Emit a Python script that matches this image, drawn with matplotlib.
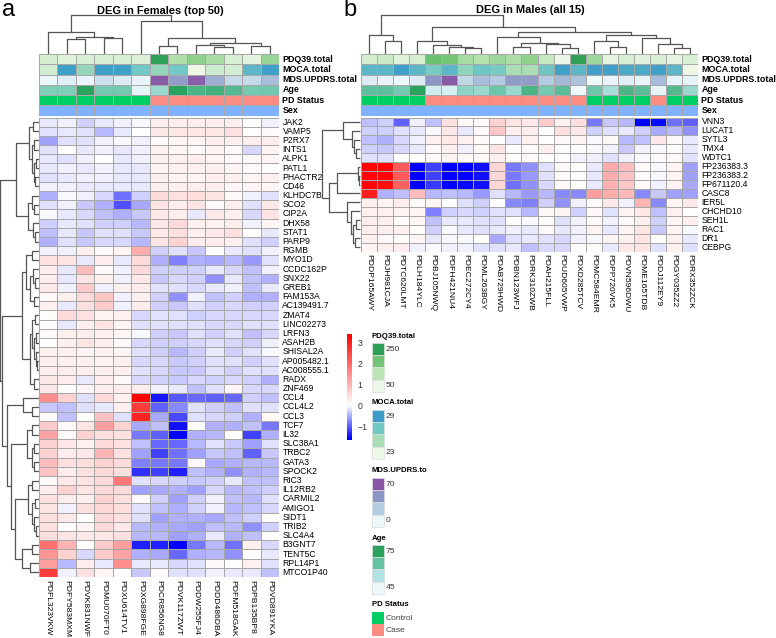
import numpy as np
import matplotlib
matplotlib.use("Agg")
import matplotlib.pyplot as plt
from matplotlib.colors import LinearSegmentedColormap, ListedColormap, TwoSlopeNorm, Normalize
from matplotlib.patches import Rectangle

plt.rcParams['font.family'] = ['Liberation Sans', 'DejaVu Sans']

W, H = 776, 638

# ---------------- panel a : females ----------------
samples_f = ["PDFL323VKW", "PDFY583MXM", "PDVK831NWF", "PDMU070FT0", "PDXU614TV1",
             "PDXG898FGE", "PDCR856NG8", "PDVK117ZWT", "PDDW255FJ4", "PDDD486DBA",
             "PDFM518GAK", "PDPB135BP8", "PDVD891YKA"]
genes_f = ["JAK2", "VAMP5", "P2RX7", "INTS1", "ALPK1", "PATL1", "PHACTR2", "CD46",
           "KLHDC7B", "SCO2", "CIP2A", "DHX58", "STAT1", "PARP9", "RGMB", "MYO1D",
           "CCDC162P", "SNX22", "GREB1", "FAM153A", "AC139491.7", "ZMAT4", "LINC02273",
           "LRFN3", "ASAH2B", "SHISAL2A", "AP005482.1", "AC008555.1", "RADX", "ZNF469",
           "CCL4", "CCL4L2", "CCL3", "TCF7", "IL32", "SLC38A1", "TRBC2", "GATA3",
           "SPOCK2", "RIC3", "IL12RB2", "CARMIL2", "AMIGO1", "SIDT1", "TRIB2", "SLC4A4",
           "B3GNT7", "TENT5C", "RPL14P1", "MTCO1P40"]
expr_f = [
    [-0.15, -0.1, -0.3, -0.15, -0.1, -0.05, 0.25, 0.25, 0.25, 0.2, 0.2, 0.05, -0.1],
    [-0.2, -0.15, -0.2, -0.45, -0.15, 0.0, 0.3, 0.3, 0.3, 0.3, 0.4, 0.05, 0.1],
    [-0.6, -0.2, -0.2, -0.1, -0.05, -0.1, 0.1, 0.15, 0.15, 0.2, 0.2, 0.25, 0.25],
    [-0.2, 0.05, -0.15, -0.1, -0.15, -0.1, 0.2, 0.15, 0.1, 0.15, 0.1, -0.25, 0.15],
    [-0.15, -0.2, -0.1, 0.0, -0.15, -0.1, 0.2, 0.2, 0.25, 0.15, 0.1, 0.1, 0.15],
    [-0.15, -0.1, -0.15, -0.1, -0.15, -0.15, 0.15, 0.2, 0.2, 0.2, 0.15, 0.1, 0.05],
    [-0.2, -0.15, -0.1, -0.1, -0.15, -0.15, 0.2, 0.15, 0.15, 0.2, 0.2, 0.15, 0.2],
    [-0.1, -0.1, -0.15, -0.15, -0.15, -0.15, 0.2, 0.2, 0.25, 0.2, 0.15, 0.15, 0.15],
    [-0.5, -0.05, -0.1, -0.25, -0.9, -0.3, 0.5, 0.4, 0.45, 0.35, 0.1, -0.1, -0.2],
    [-0.2, -0.1, -0.35, -0.5, -1.1, -0.55, 0.35, 0.25, 0.35, 0.1, 0.2, -0.2, 0.3],
    [-0.05, -0.15, -0.25, -0.4, -0.5, -0.35, 0.3, 0.25, -0.15, 0.3, 0.2, -0.25, 0.35],
    [-0.3, -0.15, -0.2, -0.3, -0.3, -0.45, 0.3, 0.5, 0.2, 0.2, 0.25, -0.1, 0.15],
    [-0.4, -0.15, -0.35, -0.2, -0.2, -0.35, 0.3, 0.45, 0.2, 0.3, 0.4, 0.0, -0.15],
    [-0.5, -0.2, -0.35, -0.25, -0.25, -0.45, 0.35, 0.6, 0.25, 0.25, 0.2, -0.2, -0.3],
    [-0.1, -0.1, 0.2, 0.1, 0.15, 1.1, -0.3, -0.2, -0.35, 0.05, -0.15, -0.2, -0.1],
    [0.4, 0.35, -0.15, 0.25, -0.15, 0.5, -0.5, -0.8, -0.5, -0.55, -0.45, -0.65, -0.2],
    [0.25, -0.15, 0.9, 0.1, -0.1, 0.5, -0.3, -0.3, -0.3, -0.15, -0.25, -0.4, -0.1],
    [0.25, -0.15, 0.35, 0.2, -0.1, 0.3, -0.35, -0.25, -0.3, -0.7, -0.15, -0.4, -0.5],
    [0.3, -0.1, 0.7, -0.1, 0.2, 0.25, -0.2, -0.2, -0.25, -0.15, -0.1, -0.4, -0.15],
    [0.1, 0.2, 0.5, 0.75, -0.1, 0.2, -0.3, -0.7, -0.1, -0.4, -0.3, -0.5, -0.5],
    [0.2, -0.15, 0.45, 0.7, -0.1, 0.25, -0.3, -0.35, -0.2, -0.3, -0.25, -0.3, -0.3],
    [0.05, 0.5, 0.4, 0.15, 0.2, -0.25, -0.2, -0.2, -0.3, -0.25, -0.25, -0.25, -0.25],
    [0.05, -0.15, 0.2, 0.35, 0.15, -0.2, -0.2, -0.2, -0.2, -0.25, -0.25, -0.2, -0.2],
    [0.1, 0.2, 0.25, 0.2, 0.15, -0.05, -0.3, -0.35, -0.2, -0.3, -0.2, -0.4, -0.25],
    [0.05, 0.2, 0.35, 0.2, 0.1, -0.25, -0.3, -0.3, -0.25, -0.2, -0.25, -0.3, -0.1],
    [0.2, 0.2, 0.15, 0.2, 0.15, -0.2, -0.3, -0.45, -0.3, -0.15, -0.3, -0.2, -0.05],
    [0.25, 0.2, 0.2, 0.15, 0.2, -0.25, -0.25, -0.35, -0.3, -0.2, -0.2, -0.3, -0.2],
    [0.25, 0.25, 0.2, 0.2, 0.2, -0.2, -0.25, -0.35, -0.35, -0.2, -0.3, -0.2, -0.2],
    [0.3, 0.25, -0.15, 0.25, 0.1, -0.25, -0.3, -0.35, -0.25, -0.3, -0.25, -0.3, -0.5],
    [0.3, 0.05, 0.15, 0.25, 0.25, 0.25, -0.1, -0.15, -0.4, -0.2, 0.15, -0.25, -0.25],
    [1.5, 0.6, -0.2, 0.5, 0.2, 3.3, -1.45, -1.05, -0.95, -1.0, -0.95, -0.3, -0.4],
    [-0.35, -0.4, -0.2, -0.15, 0.2, 2.6, -1.0, -0.75, -0.2, -0.3, -0.4, -0.2, -0.2],
    [0.1, -0.4, 0.05, 0.8, -0.2, 2.9, -0.55, -1.15, -0.2, -0.25, -0.3, -0.5, 0.1],
    [0.7, 0.1, 0.35, 1.3, 0.6, -0.55, -0.4, -1.5, 0.05, -0.5, -0.5, -0.4, -0.85],
    [1.2, 0.1, 0.6, 0.45, 0.4, -0.85, -1.0, -1.6, -0.5, -0.45, 0.05, -1.2, -0.5],
    [0.6, 0.3, 0.2, 0.5, 0.4, -0.4, -0.95, -0.95, -0.45, -0.2, -0.35, -0.6, -0.2],
    [0.6, 0.25, 0.3, 1.0, 0.4, -0.6, -1.2, -0.9, -0.6, -0.35, -0.4, -1.0, -0.35],
    [0.9, 0.4, 0.45, 0.6, 0.5, -0.8, -0.85, -0.85, 0.1, -0.55, -0.5, -0.45, -0.45],
    [0.8, 0.25, 0.4, 0.5, 0.4, -1.3, -1.2, -1.4, -0.4, -0.5, -0.7, -0.5, -0.45],
    [0.1, 0.3, 0.35, 0.5, 1.8, -0.2, -0.25, -0.3, -0.35, -0.3, -0.15, -0.4, -0.4],
    [0.25, 0.6, 0.35, 0.5, 0.5, -0.6, -0.55, -0.5, -0.6, -0.25, -0.45, -0.4, -0.3],
    [0.4, 0.25, 0.2, 0.6, 0.4, 0.1, -0.3, -0.6, -0.3, -0.1, -0.4, -0.45, -0.2],
    [0.35, -0.1, 0.45, 0.55, 0.45, -0.2, -0.4, -0.5, -0.3, -0.1, -0.45, -0.4, -0.25],
    [0.4, 0.3, 0.05, 0.5, 0.4, -0.2, -0.6, -0.5, -0.5, -0.55, -0.4, -0.3, 0.05],
    [0.4, 0.05, 0.15, 0.5, 0.3, -0.45, -0.5, -0.55, -0.6, -0.4, -0.45, -0.7, -0.3],
    [0.45, 0.35, 0.3, 0.3, 0.4, -0.45, -0.45, -0.6, -0.5, -0.15, -0.5, -0.4, 0.0],
    [1.9, 1.0, 0.05, 0.7, 1.3, -1.4, -1.4, -1.6, -0.85, -0.45, -0.9, 0.2, -0.25],
    [1.4, 0.6, -0.25, 0.7, 1.2, -0.5, -0.55, -0.95, -0.5, -0.45, -0.7, 0.05, -0.15],
    [1.3, -0.45, 0.25, -0.15, 1.5, -0.15, -0.15, -0.25, -0.2, 0.1, 0.05, 0.2, -0.2],
    [2.6, -0.1, 0.4, 0.15, 0.05, -0.35, 0.1, -0.2, -0.2, -0.1, -0.15, -0.15, -0.4],
]
pdq_f = [42, 25, 38, 38, 38, 32, 265, 103, 147, 112, 38, 18, 134]
moca_f = [22.2, 29.7, 25, 29.7, 29.7, 27, 25, 27, 21, 22.5, 22.2, 28.2, 29.7]
mds_f = [2, 6, 2.5, 15, 8, 2.5, 78, 50, 76, 42, 19, 19, 34]
age_f = [62.8, 62.8, 78, 64.2, 64.2, 45.7, 58.9, 78, 71.6, 73.1, 70, 64.2, 64.8]
status_f = ["Control"] * 6 + ["Case"] * 7

# ---------------- panel b : males ----------------
samples_m = ["PDDP165AWY", "PDJH981CJA", "PDTC620LMT", "PDLH184YLC", "PDBJ105NWQ",
             "PDFH421NU4", "PDEC272CY4", "PDML263BGY", "PDAB729HWD", "PDBN123WFJ",
             "PDRK310ZWB", "PDAH215FLL", "PDUD605VWP", "PDXD285TCV", "PDMC584EMR",
             "PDPP720VK5", "PDVN596DWU", "PDME165TDB", "PDDJ112EY9", "PDGY035ZZ2",
             "PDRX352ZCK"]
genes_m = ["VNN3", "LUCAT1", "SYTL3", "TMX4", "WDTC1", "FP236383.3", "FP236383.2",
           "FP671120.4", "CASC8", "IER5L", "CHCHD10", "SEH1L", "RAC1", "DR1", "CEBPG"]
expr_m = [
    [-0.4, -0.3, -1.0, -0.1, -0.4, 0.4, 0.1, 0.1, 0.6, 0.35, 0.3, 0.7, 0.2, 0.45, -0.85, -0.35, -0.45, -1.6, -1.55, -0.9, -1.0],
    [-0.3, -0.3, -0.2, -0.15, -0.05, 0.3, -0.15, 0.1, 0.75, 0.2, 0.25, 0.0, 0.45, 0.3, -0.3, -0.2, -0.15, -0.3, -0.55, -0.45, -0.7],
    [-0.4, -0.5, -0.25, -0.1, 0.2, 0.3, 0.2, 0.1, 0.0, -0.15, 0.2, 0.0, 0.1, 0.15, -0.05, 0.1, -0.45, -0.4, 0.3, 0.1, -0.15],
    [-0.3, -0.35, -0.25, -0.15, 0.1, 0.2, -0.1, 0.1, 0.35, 0.0, 0.1, 0.2, -0.02, 0.05, -0.05, -0.08, -0.35, -0.08, -0.05, 0.05, -0.15],
    [-0.2, -0.2, 0.0, 0.0, 0.1, 0.15, 0.1, 0.1, 0.2, 0.05, 0.1, 0.05, -0.02, -0.08, -0.1, -0.2, -0.1, -0.05, 0.08, 0.08, -0.18],
    [3.3, 3.3, 2.2, -1.6, -1.2, -1.6, -1.6, -1.5, 0.55, -0.85, -0.7, -0.2, 0.1, 0.05, -0.15, 1.1, 0.85, 0.1, -0.05, 0.15, -0.6],
    [3.3, 3.3, 2.2, -1.6, -1.2, -1.6, -1.6, -1.5, 0.55, -0.85, -0.65, -0.2, 0.1, 0.05, -0.15, 1.1, 0.8, 0.1, -0.05, 0.15, -0.6],
    [3.3, 3.2, 2.1, -1.6, -1.25, -1.6, -1.55, -1.5, 0.55, -0.9, -0.7, -0.25, 0.1, 0.05, -0.15, 1.05, 0.75, 0.1, -0.1, 0.15, -0.55],
    [3.0, -0.5, -0.4, 0.9, -0.45, -0.4, -0.45, -0.65, -0.2, -0.45, -0.65, -0.45, -0.75, -0.75, 1.3, 1.1, 0.95, -0.75, -0.35, -0.6, -0.6],
    [0.2, 0.15, 0.25, 0.1, 0.15, 0.0, -0.2, -0.3, 0.0, -0.75, -0.8, -0.3, -0.7, -0.1, 0.1, 0.3, -0.1, 1.0, -0.75, 0.15, 0.3],
    [0.2, 0.2, 0.15, 0.15, -0.8, -0.3, -0.25, -0.3, -0.2, -0.2, -0.45, 0.1, 0.15, -0.3, 0.1, -0.2, 0.15, 0.3, -0.4, 0.2, 0.0],
    [0.25, 0.2, 0.05, 0.15, -0.4, -0.15, -0.15, -0.2, -0.2, 0.05, -0.05, 0.05, -0.2, -0.1, 0.1, -0.1, 0.1, 0.2, -0.3, 0.15, 0.2],
    [0.25, 0.2, 0.2, 0.05, -0.3, -0.05, -0.15, -0.2, -0.15, -0.1, -0.15, 0.1, -0.15, -0.1, 0.15, -0.15, 0.15, 0.35, -0.35, 0.15, -0.05],
    [0.2, 0.1, 0.05, 0.15, -0.15, -0.05, -0.05, 0.05, -0.55, -0.2, -0.15, -0.2, -0.25, -0.1, -0.05, 0.15, 0.2, 0.35, 0.05, 0.2, -0.15],
    [0.15, 0.2, 0.25, -0.1, -0.05, -0.1, -0.1, -0.2, -0.2, -0.15, -0.4, -0.25, -0.25, 0.05, 0.05, -0.15, 0.3, 0.35, -0.2, 0.2, -0.2],
]
pdq_m = [43, 60, 25, 40, 192, 180, 116, 98, 126, 107, 147, 69, 5, 265, 126, 16, 41, 23, 37, 16, 37]
moca_m = [28.2, 28.2, 29.7, 28.2, 26.6, 28.2, 25.3, 27.2, 26.6, 24, 24, 27.2, 29.7, 28.2,
          29.7, 29.7, 29, 29, 29.7, 28.2, 21]
mds_m = [8, 2.3, 0.5, 8, 53, 78, 20.7, 34, 27, 50, 50, 27, 37, 31.5, 0, 2.3, 6, 2.3, 35, 4, 4]
age_m = [68, 68, 64.3, 78, 49.8, 48.4, 60.5, 58.9, 65.6, 58.9, 71.6, 64.2, 68.8, 44,
         65.6, 56.8, 71.6, 68.8, 45.7, 70, 59]
status_m = ["Control"] * 4 + ["Case"] * 10 + ["Control"] * 4 + ["Case"] + ["Control"] * 2

# dendrograms: (left, right, height), leaves are row / column indexes
col_tree_f = ((0, ((1, 2, 14.2), (3, 4, 15.2), 16.8), 21.5),
              (5, ((6, 7, 7.5), ((8, (9, 10, 6.8), 8.5), (11, 12, 7.8), 10.8), 15.2), 32.8),
              38.5)
col_tree_m = ((0, (1, 2, 12.2), 18.6),
              ((3, (4, (5, (6, 7, 5.1), 6.7), 9.0), 12.8),
               ((8, ((9, 10, 6.4), (11, (12, 13, 5.8), 9.6), 10.6), 17.0),
                ((14, (15, 16, 6.4), 12.8), (17, (18, (19, 20, 5.8), 9.6), 15.4), 18.6),
                21.2),
               26.6),
              38.5)
rows_A = ((0, 1, 0.25), ((2, 3, 0.2), ((4, 5, 0.12), (6, 7, 0.15), 0.2), 0.28), 0.42)
rows_B = ((8, (9, 10, 0.2), 0.3), (11, (12, 13, 0.15), 0.25), 0.45)
rows_C = (((14, 15, 0.3), ((16, (17, 18, 0.18), 0.26), (19, 20, 0.2), 0.35), 0.55),
          (((21, 22, 0.18), ((23, 24, 0.12), (25, (26, 27, 0.08), 0.13), 0.2), 0.28),
           (28, 29, 0.2), 0.38), 0.7)
rows_low = ((30, (31, 32, 0.3), 0.65),
            (((33, 34, 0.3), ((35, 36, 0.2), (37, 38, 0.22), 0.3), 0.5),
             (((39, 40, 0.3), ((41, 42, 0.18), (43, (44, 45, 0.12), 0.2), 0.28), 0.45),
              ((46, 47, 0.3), (48, 49, 0.38), 0.7), 1.0), 1.15), 1.3)
row_tree_f = ((rows_A, rows_B, 0.95), (rows_C, rows_low, 1.5), 1.6)
row_tree_m = ((0, (1, (2, (3, 4, 0.1), 0.15), 0.22), 0.45),
              (((5, (6, 7, 0.02), 0.05), 8, 0.6),
               (9, (10, ((11, 12, 0.1), (13, 14, 0.12), 0.18), 0.25), 0.35), 0.82), 1.0)

# ---------------- colours ----------------
heat_cmap = LinearSegmentedColormap.from_list("bwr_ph", ["#0000ff", "#ffffff", "#ff0000"])
heat_norm = TwoSlopeNorm(vmin=-1.6, vcenter=0, vmax=3.4)
annot_scales = {
    "PDQ39.total": (["#edf7e9", "#bae4b3", "#74c476", "#2e9e55"], 0, 270, "250", "50"),
    "MOCA.total": (["#eef8e6", "#a8ddb5", "#72c8c4", "#3b9cc8"], 21, 30, "29", "23"),
    "MDS.UPDRS.total": (["#edf8fb", "#b3cde3", "#8c96c6", "#8856a7"], 0, 80, "70", "0"),
    "Age": (["#edf8fb", "#b2e2e2", "#66c2a4", "#2ca25f"], 44, 78, "75", "45"),
}
status_colors = {"Control": "#00cd63", "Case": "#fb8c83"}
sex_color = "#80b2ff"
grid_col = "#a8a8a8"

fig = plt.figure(figsize=(W / 100, H / 100), dpi=100)


def px_axes(x0, y0, x1, y1):
    ax = fig.add_axes([x0 / W, 1 - y1 / H, (x1 - x0) / W, (y1 - y0) / H])
    ax.axis("off")
    return ax


def tree_layout(node):
    if isinstance(node, int):
        return node + 0.5, 0.0, []
    left, right, h = node
    xl, hl, sl = tree_layout(left)
    xr, hr, sr = tree_layout(right)
    return (xl + xr) / 2, h, sl + sr + [([xl, xl, xr, xr], [hl, h, h, hr])]


def draw_col_tree(ax, tree, n):
    _, top, segs = tree_layout(tree)
    for xs, hs in segs:
        ax.plot(xs, hs, color="#555555", lw=0.9, clip_on=False, solid_capstyle="butt")
    ax.set_xlim(0, n)
    ax.set_ylim(0, top)


def draw_row_tree(ax, tree, n):
    _, top, segs = tree_layout(tree)
    for ys, hs in segs:
        ax.plot(hs, ys, color="#555555", lw=0.9, clip_on=False, solid_capstyle="butt")
    ax.set_xlim(top, 0)
    ax.set_ylim(n, 0)


def draw_heat(ax, genes, samples, values):
    mat = np.array(values)
    ax.pcolormesh(mat, cmap=heat_cmap, norm=heat_norm, edgecolors=grid_col, linewidth=0.5)
    ax.set_xlim(0, mat.shape[1])
    ax.set_ylim(mat.shape[0], 0)
    for i, g in enumerate(genes):
        ax.annotate(g, (mat.shape[1], i + 0.5), xytext=(2.5, 0), textcoords="offset points",
                    va="center", ha="left", fontsize=6.2, annotation_clip=False)
    for j, s in enumerate(samples):
        ax.annotate(s, (j + 0.5, mat.shape[0]), xytext=(0, -2), textcoords="offset points",
                    va="top", ha="center", rotation=-90, fontsize=6.1,
                    annotation_clip=False)


def draw_annot(ax, pdq, moca, mds, age, status):
    n = len(pdq)
    xs = np.arange(n + 1)
    rows = [("PDQ39.total", pdq), ("MOCA.total", moca), ("MDS.UPDRS.total", mds), ("Age", age)]
    for i, (name, vals) in enumerate(rows):
        cols, lo, hi, _, _ = annot_scales[name]
        cm = LinearSegmentedColormap.from_list(name, cols)
        ax.pcolormesh(xs, [i, i + 1], np.array(vals)[None, :], cmap=cm,
                      norm=Normalize(lo, hi), edgecolors=grid_col, linewidth=0.5)
    codes = np.array([0 if s == "Control" else 1 for s in status])
    ax.pcolormesh(xs, [4, 5], codes[None, :], edgecolors=grid_col, linewidth=0.5,
                  cmap=ListedColormap([status_colors["Control"], status_colors["Case"]]),
                  vmin=0, vmax=1)
    ax.pcolormesh(xs, [5, 6], np.zeros((1, n)), edgecolors=grid_col, linewidth=0.5,
                  cmap=ListedColormap([sex_color]))
    ax.set_xlim(0, n)
    ax.set_ylim(6, 0)
    labels = [r[0] for r in rows] + ["PD Status", "Sex"]
    for i, lab in enumerate(labels):
        ax.annotate(lab, (n, i + 0.5), xytext=(2.5, 0), textcoords="offset points",
                    va="center", ha="left", fontsize=6.4, fontweight="bold",
                    annotation_clip=False)


# panel a
draw_col_tree(px_axes(39, 15, 279, 53.5), col_tree_f, len(samples_f))
draw_annot(px_axes(39, 54, 279, 115.5), pdq_f, moca_f, mds_f, age_f, status_f)
draw_row_tree(px_axes(0, 117.5, 39, 577), row_tree_f, len(genes_f))
draw_heat(px_axes(39, 117.5, 279, 577), genes_f, samples_f, expr_f)

# panel b
draw_col_tree(px_axes(361, 15, 698, 53.5), col_tree_m, len(samples_m))
draw_annot(px_axes(361, 54, 698, 115.5), pdq_m, moca_m, mds_m, age_m, status_m)
draw_row_tree(px_axes(322, 117.5, 360, 251.5), row_tree_m, len(genes_m))
draw_heat(px_axes(361, 117.5, 698, 251.5), genes_m, samples_m, expr_m)

# titles
fig.text(160 / W, 1 - 11 / H, "DEG in Females (top 50)", ha="center", va="center",
         fontsize=7.9, fontweight="bold")
fig.text(530 / W, 1 - 10 / H, "DEG in Males (all 15)", ha="center", va="center",
         fontsize=7.9, fontweight="bold")
fig.text(2 / W, 1 - 10 / H, "a", ha="left", va="center", fontsize=17)
fig.text(343 / W, 1 - 10 / H, "b", ha="left", va="center", fontsize=17)

# expression colour key
cax = fig.add_axes([347 / W, 1 - 440 / H, 5 / W, 106 / H])
key = np.linspace(3.4, -1.65, 200)[:, None]
cax.imshow(key, cmap=heat_cmap, norm=heat_norm, aspect="auto", extent=[0, 1, -1.65, 3.4])
cax.set_xticks([])
cax.yaxis.tick_right()
cax.set_yticks([-1, 0, 1, 2, 3])
cax.tick_params(length=0, labelsize=6.3, pad=4, colors="#333333")
for sp in cax.spines.values():
    sp.set_visible(False)

# annotation legends
lay = fig.add_axes([0, 0, 1, 1])
lay.set_xlim(0, W)
lay.set_ylim(H, 0)
lay.axis("off")
leg_x, box_w, box_h = 372, 12, 12.2
leg_tops = {"PDQ39.total": 336, "MOCA.total": 403, "MDS.UPDRS.total": 471, "Age": 538}
for name, ty in leg_tops.items():
    cols, lo, hi, top_lab, bot_lab = annot_scales[name]
    title = "MDS.UPDRS.to" if name == "MDS.UPDRS.total" else name
    lay.text(leg_x, ty, title, fontsize=5.6, fontweight="bold", va="center", ha="left")
    for k, c in enumerate(cols[::-1]):
        y0 = ty + 7 + k * box_h
        lay.add_patch(Rectangle((leg_x, y0), box_w, box_h, facecolor=c,
                                edgecolor="#dddddd", lw=0.5))
    lay.text(leg_x + box_w + 2, ty + 7 + box_h / 2, top_lab, fontsize=6.1,
             va="center", color="#333333")
    lay.text(leg_x + box_w + 2, ty + 7 + 3.5 * box_h, bot_lab, fontsize=6.1,
             va="center", color="#333333")

lay.text(leg_x, 605, "PD Status", fontsize=5.6, fontweight="bold", va="center", ha="left")
for k, lab in enumerate(["Control", "Case"]):
    y0 = 612 + k * box_h
    lay.add_patch(Rectangle((leg_x, y0), box_w, box_h, facecolor=status_colors[lab],
                            edgecolor="none"))
    lay.text(leg_x + box_w + 2, y0 + box_h / 2, lab, fontsize=6.1, va="center",
             color="#444444")

fig.savefig("out.png", dpi=100)
